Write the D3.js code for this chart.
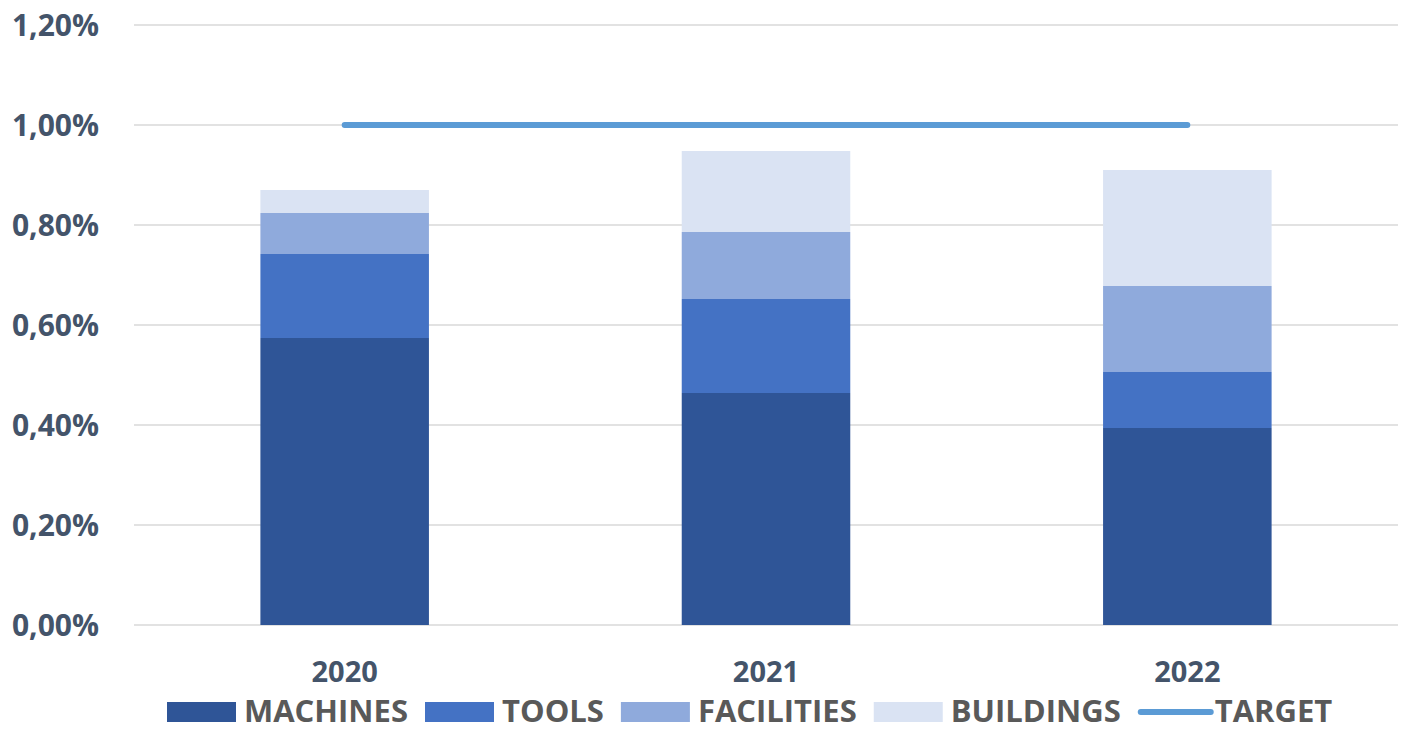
<!DOCTYPE html>
<html>
<head>
<meta charset="utf-8">
<script src="https://cdn.jsdelivr.net/npm/d3@7"></script>
<style>
  html, body { margin: 0; padding: 0; background: #ffffff; }
  svg { display: block; }
</style>
</head>
<body>
<svg id="chart" width="1407" height="731"></svg>
<script>
const years = ["2020", "2021", "2022"];
const seriesNames = ["MACHINES", "TOOLS", "FACILITIES", "BUILDINGS"];
const machines   = [0.574, 0.464, 0.394];
const tools      = [0.168, 0.188, 0.112];
const facilities = [0.082, 0.134, 0.172];
const buildings  = [0.046, 0.162, 0.232];
const target     = [1.00, 1.00, 1.00];
const targetName = "TARGET";
const yTicks = [0, 0.2, 0.4, 0.6, 0.8, 1.0, 1.2];
const colors = ["#2f5597", "#4472c4", "#8faadc", "#dae3f3"];
const targetColor = "#5b9bd5";

(function () {
const svg = d3.select("#chart");
const pLeft = 134, pRight = 1398, pTop = 25, pBottom = 625;

const x = d3.scaleBand().domain(years).range([pLeft, pRight]).padding(0);
const y = d3.scaleLinear().domain([0, 1.2]).range([pBottom, pTop]);
const barW = x.bandwidth() * 0.4;

// gridlines
svg.append("g").selectAll("line").data(yTicks).join("line")
  .attr("x1", pLeft).attr("x2", pRight)
  .attr("y1", d => y(d)).attr("y2", d => y(d))
  .attr("stroke", "#d9d9d9").attr("stroke-width", 1.3);

// y labels
const fmt = d => d.toFixed(2).replace(".", ",") + "%";
svg.append("g").selectAll("text").data(yTicks).join("text")
  .attr("x", 99).attr("y", d => y(d) + 11)
  .attr("text-anchor", "end")
  .attr("font-family", "Open Sans, sans-serif").attr("font-weight", 700)
  .attr("font-size", 30).attr("fill", "#44546a")
  .text(fmt);

// stacked bars
const rows = years.map((yr, i) => ({year: yr, MACHINES: machines[i], TOOLS: tools[i], FACILITIES: facilities[i], BUILDINGS: buildings[i]}));
const stacked = d3.stack().keys(seriesNames)(rows);
svg.append("g").selectAll("g").data(stacked).join("g")
  .attr("fill", (d, i) => colors[i])
  .selectAll("rect").data(d => d).join("rect")
  .attr("x", d => x(d.data.year) + (x.bandwidth() - barW) / 2)
  .attr("width", barW)
  .attr("y", d => y(d[1]))
  .attr("height", d => y(d[0]) - y(d[1]));

// target line
const line = d3.line().x((d, i) => x(years[i]) + x.bandwidth() / 2).y(d => y(d));
svg.append("path").datum(target)
  .attr("d", line).attr("fill", "none")
  .attr("stroke", targetColor).attr("stroke-width", 6)
  .attr("stroke-linecap", "round");

// x labels
svg.append("g").selectAll("text").data(years).join("text")
  .attr("x", d => x(d) + x.bandwidth() / 2).attr("y", 682)
  .attr("text-anchor", "middle")
  .attr("font-family", "Open Sans, sans-serif").attr("font-weight", 700)
  .attr("font-size", 29).attr("fill", "#44546a")
  .text(d => d);

// legend
const legendItems = seriesNames.map((n, i) => ({name: n, color: colors[i], type: "rect"}))
  .concat([{name: targetName, color: targetColor, type: "line"}]);
const lg = svg.append("g");
let cx = 167;
legendItems.forEach(item => {
  const g = lg.append("g");
  if (item.type === "rect") {
    g.append("rect").attr("x", cx).attr("y", 702).attr("width", 69).attr("height", 20).attr("fill", item.color);
  } else {
    g.append("line").attr("x1", cx + 3).attr("x2", cx + 73).attr("y1", 712).attr("y2", 712)
      .attr("stroke", item.color).attr("stroke-width", 6).attr("stroke-linecap", "round");
  }
  const t = g.append("text").attr("x", cx + 77).attr("y", 722)
    .attr("font-family", "Open Sans, sans-serif").attr("font-weight", 700)
    .attr("font-size", 31).attr("fill", "#595959")
    .text(item.name);
  const w = t.node().getComputedTextLength();
  cx = cx + 77 + w + 17;
});
})();
</script>
</body>
</html>
